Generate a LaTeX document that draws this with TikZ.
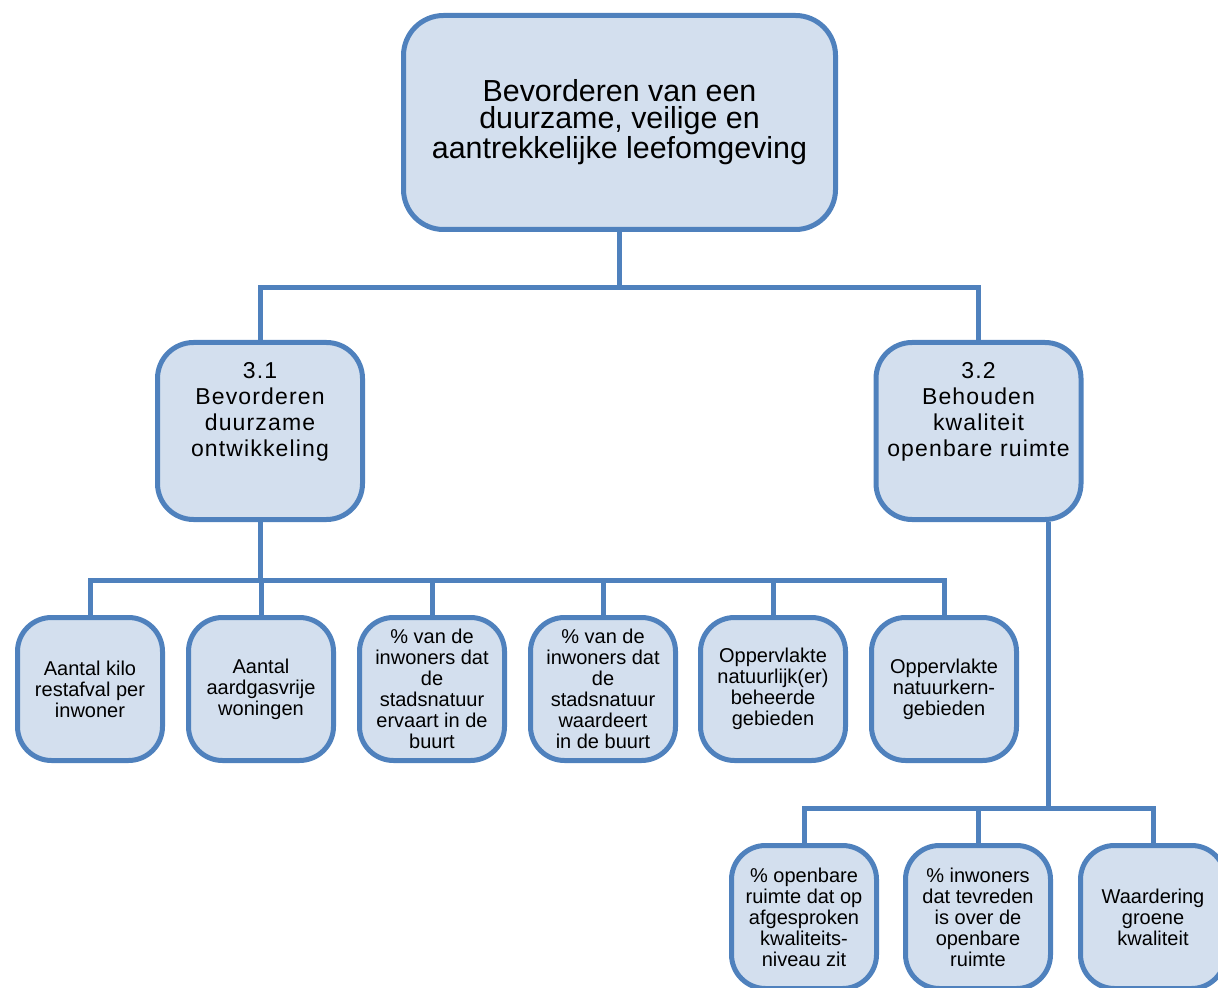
\documentclass[tikz,border=0pt]{standalone}
\usepackage{fontspec}
\setmainfont{Liberation Sans}
\definecolor{boxline}{RGB}{79,129,189}
\definecolor{boxfill}{RGB}{211,223,238}
\begin{document}
\begin{tikzpicture}[x=0.5pt, y=-0.5pt, line width=2.5pt,
  goal node/.style={rectangle,rounded corners=20pt,draw=boxline,fill=boxfill,align=center,
    minimum width=216pt,minimum height=107pt,inner sep=2pt,font=\fontsize{15.2}{13.4}\selectfont},
  sub node/.style={rectangle,rounded corners=18pt,draw=boxline,fill=boxfill,align=center,
    minimum width=102.5pt,minimum height=88.5pt,inner sep=2pt,text depth=22pt,
    font=\fontsize{11.5}{13}\selectfont\addfontfeature{LetterSpace=5}},
  ind node/.style={rectangle,rounded corners=17pt,draw=boxline,fill=boxfill,align=center,
    minimum width=72.5pt,minimum height=71.5pt,inner sep=1pt,font=\fontsize{10}{10.5}\selectfont},
  link/.style={draw=boxline,line width=2.5pt}]
\useasboundingbox (0,0) rectangle (1218,988);
\node [goal node](top) at (619.5,122.5) {Bevorderen van een\\duurzame, veilige en\\aantrekkelijke leefomgeving};
\node [sub node](b31) at (260,431) {3.1\\Bevorderen\\duurzame\\ontwikkeling};
\node [sub node](b32) at (978.5,431) {3.2\\Behouden\\kwaliteit\\openbare ruimte};
\node [ind node](k1) at (90,689) {Aantal kilo\\restafval per\\inwoner};
\node [ind node](k2) at (261,689) {Aantal\\aardgasvrije\\woningen};
\node [ind node](k3) at (432,689) {\% van de\\inwoners dat\\de\\stadsnatuur\\ervaart in de\\buurt};
\node [ind node](k4) at (603,689) {\% van de\\inwoners dat\\de\\stadsnatuur\\waardeert\\in de buurt};
\node [ind node](k5) at (773,689) {Oppervlakte\\natuurlijk(er)\\beheerde\\gebieden};
\node [ind node](k6) at (944,689) {Oppervlakte\\natuurkern-\\gebieden};
\node [ind node](m1) at (804,917) {\% openbare\\ruimte dat op\\afgesproken\\kwaliteits-\\niveau zit};
\node [ind node](m2) at (978,917) {\% inwoners\\dat tevreden\\is over de\\openbare\\ruimte};
\node [ind node](m3) at (1153,917) {Waardering\\groene\\kwaliteit};
\coordinate (s32) at ([xshift=35pt]b32.south);
\draw [link] (top.south) -- ++(0,56) -| (b31.north);
\draw [link] (top.south) -- ++(0,56) -| (b32.north);
\draw [link] (b31.south) -- ++(0,58) -| (k1.north);
\draw [link] (b31.south) -- ++(0,58) -| (k2.north);
\draw [link] (b31.south) -- ++(0,58) -| (k3.north);
\draw [link] (b31.south) -- ++(0,58) -| (k4.north);
\draw [link] (b31.south) -- ++(0,58) -| (k5.north);
\draw [link] (b31.south) -- ++(0,58) -| (k6.north);
\draw [link] (s32) -- ++(0,286) -| (m1.north);
\draw [link] (s32) -- ++(0,286) -| (m2.north);
\draw [link] (s32) -- ++(0,286) -| (m3.north);
\end{tikzpicture}
\end{document}
